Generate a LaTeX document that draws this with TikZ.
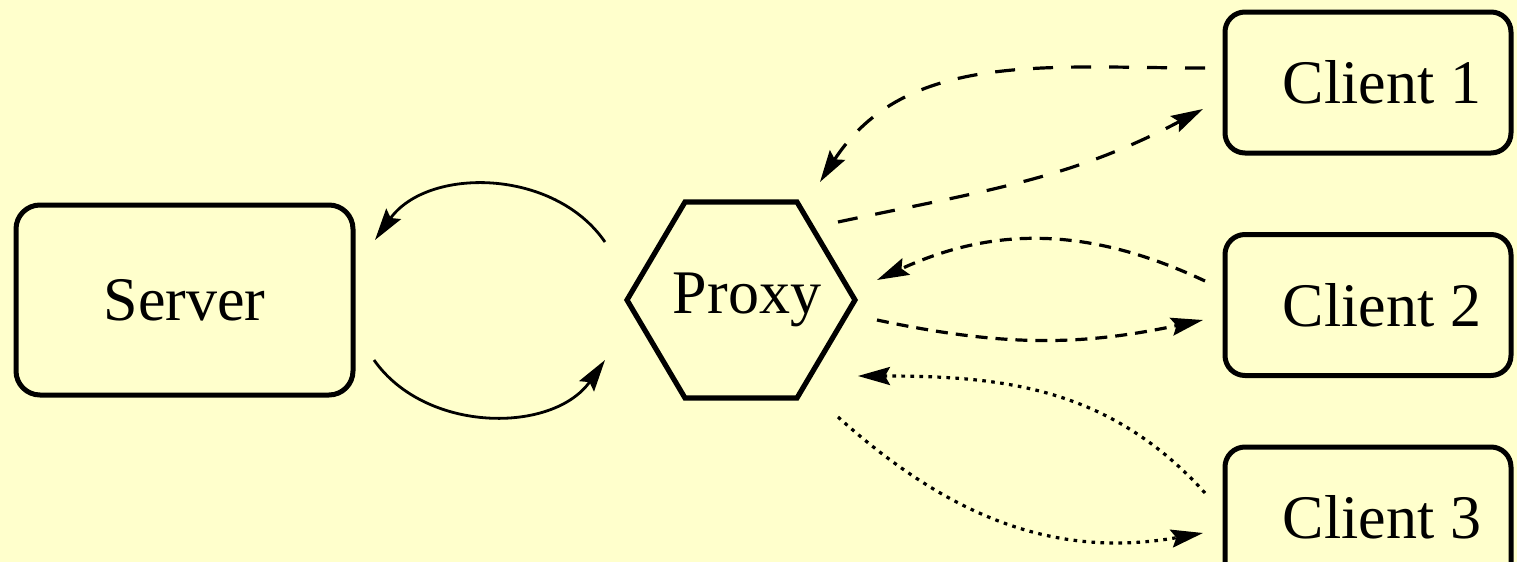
\documentclass[tikz,border=0pt]{standalone}
\usepackage{fontspec}
\setmainfont{Liberation Serif}
\usetikzlibrary{arrows.meta,calc}
\definecolor{bgyellow}{RGB}{255,255,204}
\begin{document}
\begin{tikzpicture}[x=0.5pt,y=0.5pt,
  lbl/.style={font=\fontsize{31}{36}\selectfont, inner sep=0pt},
  serverbox/.style={lbl, draw, line width=2.5pt, rounded corners=12pt, minimum width=168.5pt, minimum height=95pt},
  clientbox/.style={lbl, draw, line width=2.5pt, rounded corners=10pt, minimum width=143pt, minimum height=70.5pt},
  hexline/.style={line width=2.6pt, line join=miter},
  tip/.style={-{Stealth[length=16pt,width=9pt,inset=2.5pt]}},
  solidconn/.style={tip, line width=1.4pt},
  longdash/.style={tip, line width=1.6pt, dash pattern=on 10pt off 9pt},
  shortdash/.style={tip, line width=1.6pt, dash pattern=on 6pt off 4pt},
  dotconn/.style={tip, line width=1.6pt, dash pattern=on 1.8pt off 2.7pt}]
\fill[bgyellow] (0,-562) rectangle (1517,0);
\clip (0,-562) rectangle (1517,0);

% nodes
\node[serverbox] (server) at (184.5,-300) {Server};
\node[lbl] (proxy) at (741,-300) {\hspace{6pt}Proxy};
\draw[hexline] ($(proxy)+(-114,0)$) -- ($(proxy)+(-56,98)$) -- ($(proxy)+(56,98)$)
  -- ($(proxy)+(114,0)$) -- ($(proxy)+(56,-98)$) -- ($(proxy)+(-56,-98)$) -- cycle;
\node[clientbox] (c1) at (1368,-82.5) {\hspace{14pt}Client 1};
\node[clientbox] (c2) at (1368,-305) {\hspace{14pt}Client 2};
\node[clientbox] (c3) at (1368,-517.5) {\hspace{14pt}Client 3};

% server <-> proxy
\draw[solidconn] ($(proxy)+(-136,58)$) to[bend right=55] ($(server)+(190.5,60)$);
\draw[solidconn] ($(server)+(189.5,-60)$) to[bend right=55] ($(proxy)+(-136,-60)$);

% proxy <-> client 1
\draw[longdash] ($(c1)+(-163,14.5)$) to[out=180,in=57] ($(proxy)+(79,118)$);
\draw[longdash] ($(proxy)+(97,78)$) to[out=12,in=208] ($(c1)+(-165,-26.5)$);

% proxy <-> client 2
\draw[shortdash] ($(c2)+(-163,24)$) to[bend right=25] ($(proxy)+(136,20)$);
\draw[shortdash] ($(proxy)+(136,-20)$) to[bend right=12] ($(c2)+(-165,-15)$);

% proxy <-> client 3
\draw[dotconn] ($(c3)+(-163,24.5)$) to[out=132,in=0] ($(proxy)+(117,-76)$);
\draw[dotconn] ($(proxy)+(97,-117)$) to[out=-42,in=190] ($(c3)+(-165,-15.5)$);
\end{tikzpicture}
\end{document}
